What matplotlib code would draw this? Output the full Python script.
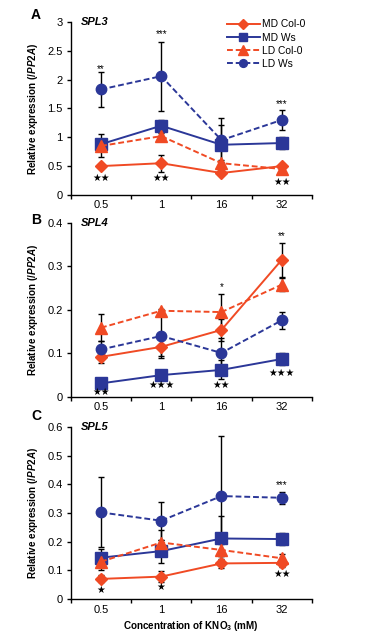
import matplotlib
matplotlib.use('Agg')
import matplotlib.pyplot as plt
import numpy as np

plt.rcParams['font.family'] = ['Liberation Sans', 'DejaVu Sans']
plt.rcParams['mathtext.fontset'] = 'custom'
plt.rcParams['mathtext.rm'] = 'Liberation Sans:bold'
plt.rcParams['mathtext.bf'] = 'Liberation Sans:bold'
plt.rcParams['mathtext.it'] = 'Liberation Sans:bold:italic'

# data
conc = ['0.5', '1', '16', '32']
series = ['MD Col-0', 'MD Ws', 'LD Col-0', 'LD Ws']

spl3 = {'MD Col-0': [0.50, 0.55, 0.38, 0.50],
        'MD Ws': [0.88, 1.20, 0.87, 0.90],
        'LD Col-0': [0.85, 1.02, 0.55, 0.45],
        'LD Ws': [1.83, 2.06, 0.95, 1.30]}
spl3_err = {'MD Col-0': [0.03, 0.15, 0.03, 0.03],
            'MD Ws': [0.06, 0.10, 0.34, 0.11],
            'LD Col-0': [0.20, 0.06, 0.05, 0.04],
            'LD Ws': [0.30, 0.60, 0.38, 0.18]}

spl4 = {'MD Col-0': [0.092, 0.115, 0.154, 0.315],
        'MD Ws': [0.031, 0.050, 0.062, 0.087],
        'LD Col-0': [0.159, 0.198, 0.195, 0.258],
        'LD Ws': [0.109, 0.140, 0.101, 0.176]}
spl4_err = {'MD Col-0': [0.013, 0.020, 0.025, 0.039],
            'MD Ws': [0.004, 0.004, 0.022, 0.014],
            'LD Col-0': [0.031, 0.004, 0.042, 0.015],
            'LD Ws': [0.020, 0.050, 0.035, 0.019]}

spl5 = {'MD Col-0': [0.070, 0.078, 0.124, 0.126],
        'MD Ws': [0.144, 0.167, 0.211, 0.209],
        'LD Col-0': [0.130, 0.197, 0.171, 0.142],
        'LD Ws': [0.302, 0.273, 0.359, 0.353]}
spl5_err = {'MD Col-0': [0.012, 0.020, 0.015, 0.015],
            'MD Ws': [0.030, 0.040, 0.080, 0.021],
            'LD Col-0': [0.030, 0.043, 0.020, 0.015],
            'LD Ws': [0.122, 0.066, 0.210, 0.020]}

# significance marks: (category index, y, text)
spl3_sig = [(0, 2.18, '**'), (1, 2.79, '***'), (3, 1.58, '***'),
            (0, 0.29, '★★'), (1, 0.29, '★★'), (3, 0.23, '★★')]
spl4_sig = [(3, 0.369, '**'), (2, 0.252, '*'),
            (0, 0.012, '★★'), (1, 0.027, '★★★'), (2, 0.027, '★★'), (3, 0.056, '★★★')]
spl5_sig = [(3, 0.397, '***'),
            (0, 0.031, '★'), (1, 0.043, '★'), (3, 0.087, '★★')]

red = '#F04A24'
blue = '#2B3798'
styles = {'MD Col-0': dict(color=red, ls='-', marker='D', ms=6.5),
          'MD Ws': dict(color=blue, ls='-', marker='s', ms=8),
          'LD Col-0': dict(color=red, ls=(0, (3, 1.5)), marker='^', ms=9),
          'LD Ws': dict(color=blue, ls=(0, (3, 1.5)), marker='o', ms=7.5)}

fig = plt.figure(figsize=(3.73, 6.37), dpi=100)
H = 637.0
L, R = 0.190, 0.836
panels = [('A', 'SPL3', spl3, spl3_err, spl3_sig, 3.0, 0.5, 0.694, 0.9655, 15),
          ('B', 'SPL4', spl4, spl4_err, spl4_sig, 0.4, 0.1, 0.377, 0.650, 220),
          ('C', 'SPL5', spl5, spl5_err, spl5_sig, 0.6, 0.1, 0.0597, 0.3297, 416)]

x = np.arange(len(conc)) + 0.5
for letter, gene, vals, errs, sig, ymax, step, bot, top, ly in panels:
    ax = fig.add_axes([L, bot, R - L, top - bot])
    for s in series:
        st = styles[s]
        ax.errorbar(x, vals[s], yerr=errs[s], fmt='none', ecolor='black',
                    elinewidth=1, capsize=2.5, capthick=1, zorder=2)
        ax.plot(x, vals[s], color=st['color'], ls=st['ls'], lw=1.4,
                marker=st['marker'], ms=st['ms'], mec=st['color'],
                mfc=st['color'], label=s, zorder=3)
    for i, yv, t in sig:
        if '★' in t:
            ax.text(x[i], yv, t, ha='center', va='center', fontsize=7,
                    family=['DejaVu Sans'])
        else:
            ax.text(x[i], yv, t, ha='center', va='center', fontsize=7)
    ax.set_xlim(0, 4)
    ax.set_ylim(0, ymax)
    ax.set_yticks(np.arange(0, ymax + step / 2, step))
    ax.set_yticklabels(['0'] + ['%g' % v for v in np.arange(step, ymax + step / 2, step)])
    ax.set_xticks([0, 1, 2, 3, 4])
    ax.set_xticklabels([])
    ax.set_xticks(x, minor=True)
    ax.set_xticklabels(conc, minor=True)
    ax.tick_params(axis='x', which='minor', length=0, pad=4, labelsize=8)
    ax.tick_params(axis='x', which='major', length=3, width=1)
    ax.tick_params(axis='y', length=3, width=1, labelsize=8, pad=3)
    for sp in ['top', 'right']:
        ax.spines[sp].set_visible(False)
    for sp in ['left', 'bottom']:
        ax.spines[sp].set_linewidth(1)
    ax.set_ylabel(r'Relative expression (/$\mathit{PP2A}$)', fontsize=7.1,
                  fontweight='bold', labelpad=5)
    ax.text(0.04, 1.0, gene, transform=ax.transAxes, ha='left', va='center',
            fontsize=8, fontweight='bold', style='italic')
    fig.text(36 / 373, 1 - ly / H, letter, ha='center', va='center',
             fontsize=10, fontweight='bold')
    if letter == 'A':
        ax.legend(loc='upper right', bbox_to_anchor=(1.0, 1.05), frameon=False,
                  fontsize=7.4, handlelength=3.2, handletextpad=0.25,
                  labelspacing=0.3, markerscale=0.75, borderaxespad=0.2)
    if letter == 'C':
        ax.set_xlabel(r'Concentration of KNO$_3$ (mM)', fontsize=7.1,
                      fontweight='bold', labelpad=3)

fig.savefig('out.png', dpi=100)
